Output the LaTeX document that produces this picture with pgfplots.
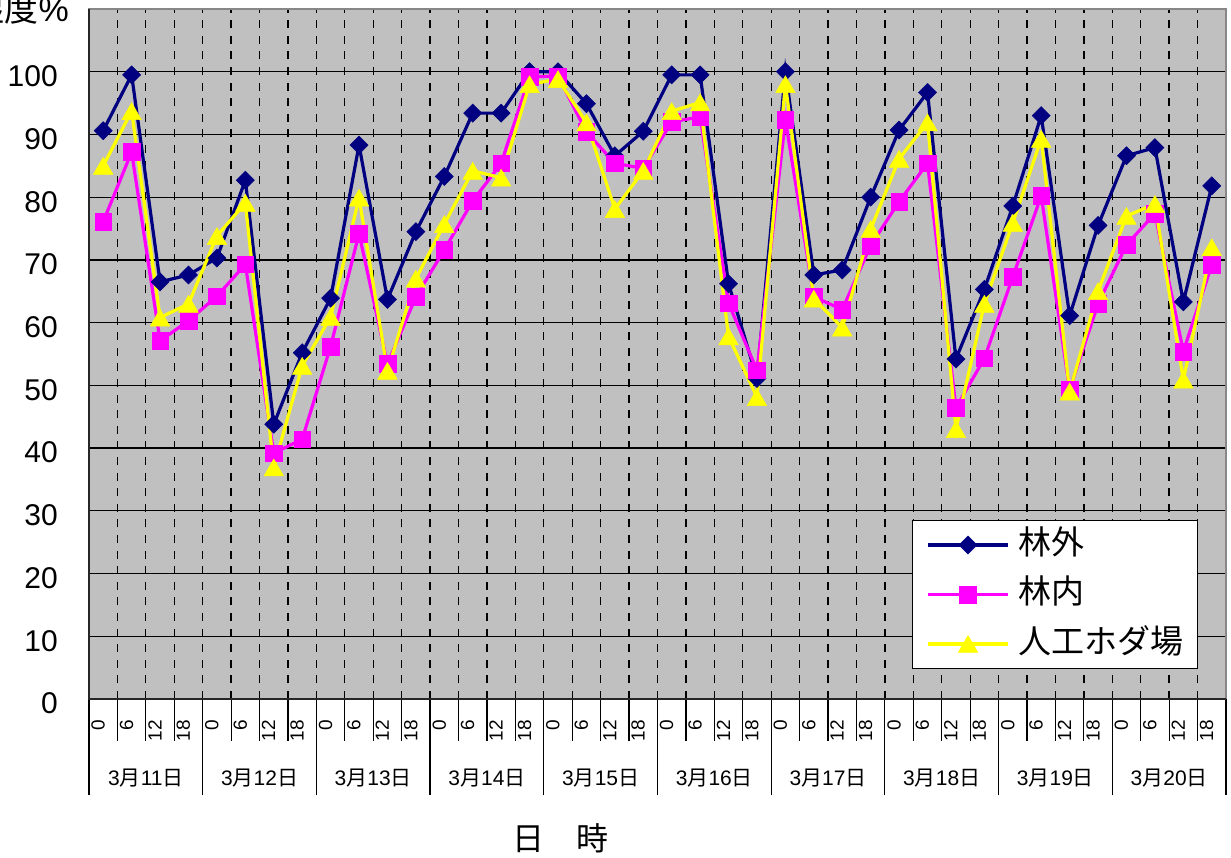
\documentclass[border=0pt]{standalone}
\usepackage{fontspec}
\setmainfont{Liberation Sans}
\newfontfamily\cjk{Noto Sans CJK JP}
\usepackage{pgfplots}
\pgfplotsset{compat=1.18}
\usepackage{pgfplotstable}
\definecolor{bg}{RGB}{192,192,192}
\definecolor{navyc}{RGB}{0,0,128}
\definecolor{magc}{RGB}{255,0,255}
\definecolor{yelc}{RGB}{255,255,0}
\definecolor{bord}{RGB}{135,135,135}

\pgfplotstableread{
i out in hoda
0 90.6 76.1 85.0
1 99.5 87.2 93.7
2 66.5 57.1 60.8
3 67.6 60.3 63.0
4 70.3 64.2 73.8
5 82.7 69.3 79.1
6 43.8 39.2 36.9
7 55.2 41.4 53.1
8 63.9 56.2 60.9
9 88.3 74.2 79.9
10 63.7 53.4 52.3
11 74.5 64.1 67.0
12 83.3 71.6 75.7
13 93.4 79.4 84.2
14 93.4 85.4 83.1
15 100.0 99.2 98.0
16 100.0 99.3 98.8
17 94.9 90.4 91.9
18 86.6 85.4 78.1
19 90.5 84.6 84.2
20 99.5 92.0 93.7
21 99.5 92.8 95.1
22 66.2 63.1 57.8
23 51.1 52.4 48.1
24 100.0 92.3 98.0
25 67.6 64.1 63.8
26 68.4 62.1 59.2
27 80.0 72.3 74.9
28 90.7 79.3 86.1
29 96.7 85.4 91.9
30 54.2 46.4 43.0
31 65.3 54.3 63.0
32 78.6 67.3 75.9
33 93.0 80.2 89.3
34 61.1 49.3 49.0
35 75.5 63.0 65.0
36 86.6 72.4 77.0
37 87.9 77.4 78.9
38 63.3 55.4 50.9
39 81.8 69.2 72.0
}\data

\begin{document}
\begin{tikzpicture}
\begin{axis}[
  scale only axis, width=1137pt, height=690pt,
  xmin=-0.5, xmax=39.5, ymin=0, ymax=110,
  axis background/.style={fill=bg},
  axis line style={draw=bord, line width=2.5pt},
  ytick={0,10,...,100},
  xtick={0,...,39},
  xticklabels={0,6,12,18,0,6,12,18,0,6,12,18,0,6,12,18,0,6,12,18,0,6,12,18,0,6,12,18,0,6,12,18,0,6,12,18,0,6,12,18},
  minor xtick={-0.5,0.5,...,39.5},
  extra x ticks={-0.5,3.5,...,39.5},
  extra x tick labels={},
  extra x tick style={major tick length=96pt},
  tick align=outside, tick pos=left,
  major tick length=0pt, minor tick length=42pt,
  tick style={black, line width=1.2pt},
  ymajorgrids, xminorgrids,
  major grid style={black, line width=1.3pt},
  minor grid style={black, line width=1.3pt, dash pattern=on 8pt off 7.6pt},
  /pgf/number format/assume math mode=true,
  y tick label style={font=\fontsize{30}{30}\selectfont, anchor=east, inner sep=0pt, xshift=-31pt, yshift=-4.5pt},
  x tick label style={font=\fontsize{19}{19}\selectfont, inner sep=0pt, xshift=-12pt, yshift=-21pt, rotate=90, anchor=north east},
  legend cell align=left,
  legend style={at={(axis description cs:0.7238,0.2594)}, anchor=north west,
    draw=black, line width=1pt, fill=white, inner xsep=14pt, inner ysep=9.5pt,
    row sep=19.5pt, font=\cjk\fontsize{33}{33}\selectfont,
    nodes={inner sep=0pt, text height=24pt, text depth=6pt},
    /tikz/every odd column/.append style={column sep=9pt}},
  legend image code/.code={\draw[#1, mark repeat=2, mark phase=2] plot coordinates {(0pt,0pt) (40pt,0pt) (80pt,0pt)};},
]
\addplot[navyc, line width=3.2pt, mark=square*, mark size=6.4pt, mark options={rotate=45, fill=navyc, draw=navyc, line width=0.5pt}] table[x=i, y=out]{\data};
\addlegendentry{林外}
\addplot[magc, line width=3.2pt, mark=square*, mark size=8.3pt, mark options={fill=magc, draw=magc, line width=0.5pt}] table[x=i, y=in]{\data};
\addlegendentry{林内}
\addplot[yelc, line width=3.2pt, mark=triangle*, mark size=11.3pt, mark options={yshift=-2.8pt, fill=yelc, draw=yelc, line width=0.5pt}] table[x=i, y=hoda]{\data};
\addlegendentry{人工ホダ場}
\end{axis}
\draw[black!85, line width=2pt] (0,690pt) -- (0,0) -- (1137pt,0);
\foreach \d [count=\k from 0] in {11,...,20}
  \node[font=\fontsize{21}{21}\selectfont, anchor=base, inner sep=0pt] at ({(2+4*\k)*28.425pt}, -87pt) {3{\cjk 月}\d{\cjk 日}};
\node[font=\cjk\fontsize{32}{32}\selectfont, anchor=base, inner sep=0pt] at (471pt,-152pt) {日　時};
\node[font=\fontsize{34}{34}\selectfont, anchor=base east, inner sep=0pt] at (-20pt,677pt) {{\cjk 湿度}\%};
\pgfresetboundingbox
\path (-89pt,-159pt) rectangle (1142pt,699pt);
\end{tikzpicture}
\end{document}
